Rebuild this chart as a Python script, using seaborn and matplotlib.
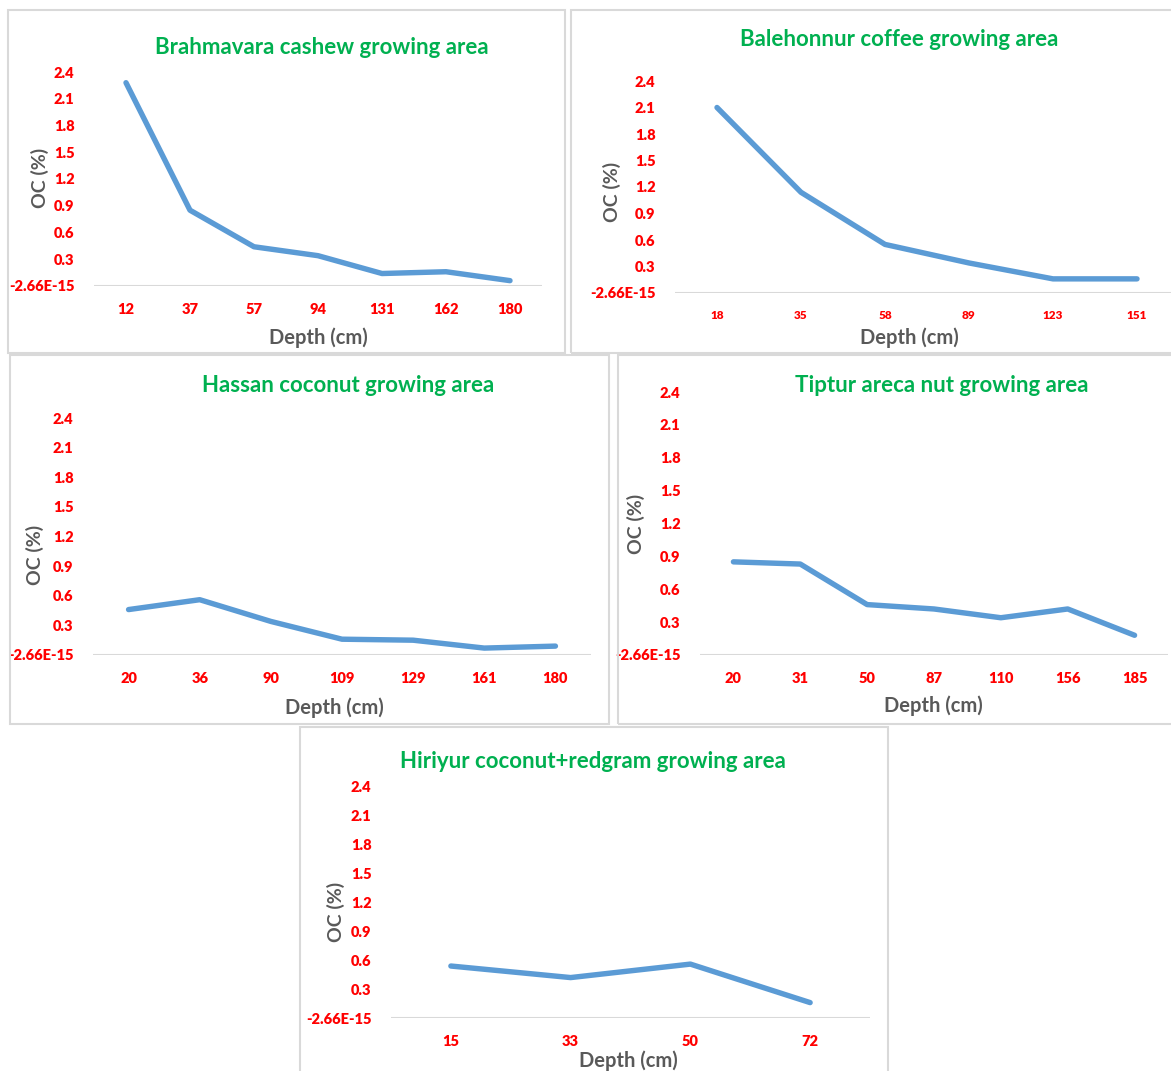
import matplotlib
matplotlib.use("Agg")
import matplotlib.pyplot as plt
from matplotlib.patches import Rectangle
import seaborn as sns
import pandas as pd

# ── Data (OC % by depth) ──
titles = ["Brahmavara cashew growing area", "Balehonnur coffee growing area",
          "Hassan coconut growing area", "Tiptur areca nut growing area",
          "Hiriyur coconut+redgram growing area"]

brahmavara_depth = ["12", "37", "57", "94", "131", "162", "180"]
brahmavara_oc = [2.28, 0.85, 0.44, 0.34, 0.14, 0.16, 0.06]

balehonnur_depth = ["18", "35", "58", "89", "123", "151"]
balehonnur_oc = [2.10, 1.14, 0.55, 0.34, 0.16, 0.16]

hassan_depth = ["20", "36", "90", "109", "129", "161", "180"]
hassan_oc = [0.46, 0.56, 0.34, 0.16, 0.15, 0.07, 0.09]

tiptur_depth = ["20", "31", "50", "87", "110", "156", "185"]
tiptur_oc = [0.85, 0.83, 0.46, 0.42, 0.34, 0.42, 0.18]

hiriyur_depth = ["15", "33", "50", "72"]
hiriyur_oc = [0.54, 0.42, 0.56, 0.16]

yticks = [0, 0.3, 0.6, 0.9, 1.2, 1.5, 1.8, 2.1, 2.4]
ytick_labels = ["-2.66E-15", "0.3", "0.6", "0.9", "1.2", "1.5", "1.8", "2.1", "2.4"]

sns.set_style("white")
plt.rcParams['font.family'] = ['Lato', 'DejaVu Sans']
plt.rcParams['font.weight'] = 'bold'

W, H = 1171, 1071
fig = plt.figure(figsize=(W / 100, H / 100), dpi=100)

def frac(l, t, r, b):
    return [l / W, 1 - b / H, (r - l) / W, (b - t) / H]

GREEN = '#00B050'
RED = '#FF0000'
GRAY = '#595959'
BLUE = '#5B9BD5'

# (title, cats, values, box, axes rect, title xy, ylabel xy, xlabel xy, xtick size)
panels = [
    (titles[0], brahmavara_depth, brahmavara_oc, (8, 10, 565, 353), (94, 72, 542, 286),
     (322, 48), (40, 178), (318, 338), 10.5),
    (titles[1], balehonnur_depth, balehonnur_oc, (571, 10, 1175, 353), (675, 81, 1179, 293),
     (899, 40), (612, 192), (909, 338), 8.5),
    (titles[2], hassan_depth, hassan_oc, (10, 355, 609, 724), (93, 418, 591, 655),
     (348, 386), (35, 555), (334, 708), 10.5),
    (titles[3], tiptur_depth, tiptur_oc, (618, 355, 1175, 724), (700, 392, 1168, 655),
     (942, 385), (636, 524), (933, 706), 10.5),
    (titles[4], hiriyur_depth, hiriyur_oc, (300, 727, 888, 1075), (391, 787, 870, 1018),
     (593, 762), (336, 912), (628, 1061), 10.5),
]

for title, depth, oc, box, arect, tpos, ylpos, xlpos, xts in panels:
    bl, bt, br, bb = box
    fig.patches.append(Rectangle((bl / W, 1 - bb / H), (br - bl) / W, (bb - bt) / H,
                                 transform=fig.transFigure, fill=False,
                                 edgecolor='#D9D9D9', lw=1.5, zorder=0))
    ax = fig.add_axes(frac(*arect))
    df = pd.DataFrame({'depth': depth, 'oc': oc})
    ax.axhline(0, color='#D9D9D9', lw=1.5, zorder=1)
    sns.lineplot(data=df, x='depth', y='oc', sort=False, ax=ax, color=BLUE,
                 lw=3.9, solid_capstyle='round', solid_joinstyle='round',
                 clip_on=False, zorder=3)
    ax.set_xlim(-0.5, len(depth) - 0.5)
    ax.set_ylim(0, 2.4)
    ax.set_yticks(yticks)
    ax.set_yticklabels(ytick_labels)
    for s in ax.spines.values():
        s.set_visible(False)
    ax.tick_params(axis='y', length=0, pad=14, labelsize=10.5, labelcolor=RED)
    ax.tick_params(axis='x', length=0, pad=12, labelsize=xts, labelcolor=RED)
    for lab in ax.get_xticklabels() + ax.get_yticklabels():
        lab.set_fontweight('heavy')
    ax.set_xlabel('')
    ax.set_ylabel('')
    ax.patch.set_alpha(0)
    fig.text(tpos[0] / W, 1 - tpos[1] / H, title, color=GREEN, fontsize=16,
             fontweight='bold', ha='center', va='center')
    fig.text(ylpos[0] / W, 1 - ylpos[1] / H, 'OC (%)', color=GRAY, fontsize=14,
             fontweight='bold', ha='center', va='center', rotation=90)
    fig.text(xlpos[0] / W, 1 - xlpos[1] / H, 'Depth (cm)', color=GRAY, fontsize=14.5,
             fontweight='bold', ha='center', va='center')

fig.savefig('out.png', dpi=100, facecolor='white')
